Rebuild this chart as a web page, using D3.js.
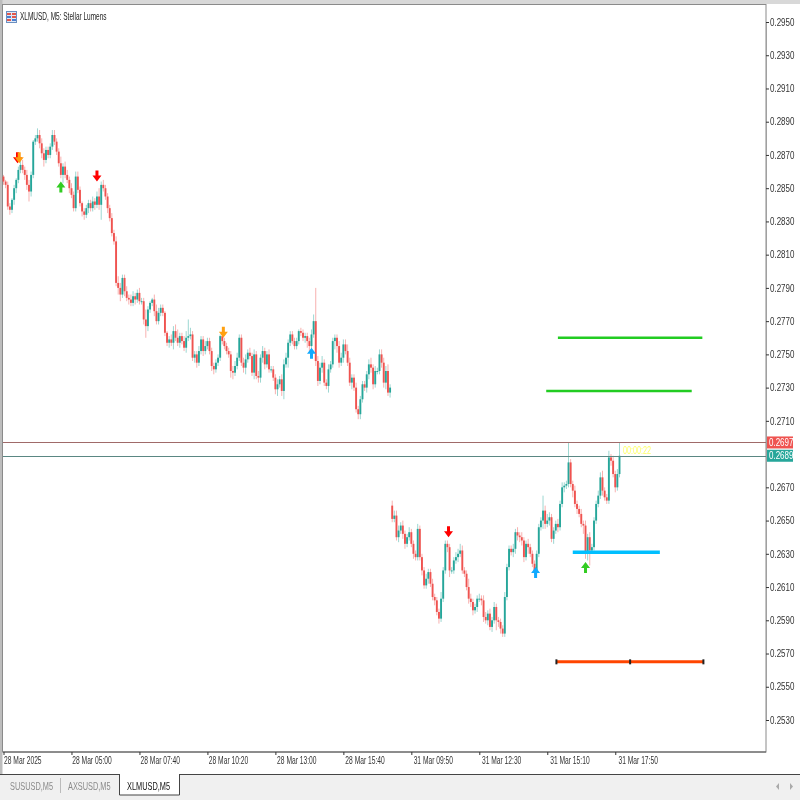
<!DOCTYPE html>
<html><head><meta charset="utf-8">
<script src="https://cdn.jsdelivr.net/npm/d3@7"></script>
<style>html,body{margin:0;padding:0;background:#fff}svg{display:block;filter:blur(.3px)}text{font-family:"Liberation Sans",Arial,sans-serif}</style>
</head><body><svg id="c" width="800" height="800"></svg>
<script>
// prices are in units of 0.0001
const firstOpen = 2857, sessionBreak = 183, sessionOpen = 2659;
const closes = [
2854,2852,2839,2837,2843,2850,2855,2861,2864,2861,
2858,2852,2848,2858,2878,2880,2882,2877,2871,2867,
2873,2870,2875,2882,2878,2872,2865,2858,2863,2858,
2855,2850,2846,2838,2857,2849,2841,2836,2834,2838,
2841,2838,2842,2840,2845,2840,2852,2850,2845,2838,
2832,2823,2818,2793,2790,2786,2796,2788,2784,2783,
2781,2785,2783,2787,2782,2782,2771,2767,2777,2781,
2783,2776,2770,2775,2778,2775,2763,2757,2759,2757,
2764,2760,2757,2761,2758,2754,2760,2761,2762,2748,
2750,2745,2752,2759,2752,2755,2758,2752,2743,2741,
2745,2748,2761,2758,2755,2752,2750,2740,2739,2743,
2748,2760,2745,2742,2747,2751,2749,2739,2750,2737,
2736,2748,2752,2744,2750,2741,2741,2736,2729,2732,
2735,2728,2744,2748,2757,2762,2758,2755,2758,2764,
2763,2760,2761,2758,2755,2762,2770,2746,2734,2742,
2745,2733,2731,2741,2744,2758,2760,2755,2745,2748,
2756,2752,2745,2733,2736,2730,2717,2714,2723,2732,
2730,2738,2744,2742,2732,2740,2740,2750,2745,2733,
2740,2727,2730,
2651,2653,2640,2644,2647,2642,2636,2640,2643,2636,
2630,2628,2645,2628,2620,2611,2615,2619,2612,2604,
2602,2595,2591,2603,2620,2636,2634,2620,2620,2626,
2628,2630,2632,2620,2618,2610,2603,2601,2596,2598,
2603,2603,2602,2592,2590,2594,2586,2590,2598,2590,
2589,2585,2582,2604,2622,2633,2631,2633,2643,2641,
2640,2638,2628,2636,2634,2630,2624,2620,2630,2646,
2650,2656,2648,2650,2652,2639,2644,2648,2646,2660,
2670,2671,2672,2685,2672,2668,2660,2657,2654,2648,
2647,2630,2640,2632,2634,2650,2660,2665,2676,2668,
2664,2662,2688,2686,2678,2670,2678,2689];
const wickUp = [
1,1,2,2,1,2,1,2,3,3, 2,3,3,2,1,2,4,3,3,3, 2,2,2,3,3,2,2,4,2,3,
3,2,3,2,3,3,2,1,2,2, 2,2,3,2,3,5,2,3,2,2, 2,3,2,3,4,3,2,2,3,2,
3,3,2,2,3,2,2,6,2,1, 1,3,4,3,2,2,1,1,2,3, 3,4,5,2,2,3,4,10,4,2,
2,2,3,2,2,3,2,2,2,2, 2,2,1,2,2,2,2,2,3,3, 3,2,2,3,3,2,3,2,3,2,
3,2,3,2,2,3,2,2,2,3, 2,3,3,3,2,2,2,2,2,1, 2,2,2,2,2,3,4,20,3,3,
4,2,2,3,2,2,2,2,3,3, 3,3,4,3,2,2,3,2,2,2, 2,2,3,4,2,3,2,3,3,3,
3,4,2,
3,3,3,3,2,3,2,2,3,2, 2,2,3,2,2,2,3,2,2,3, 2,2,2,4,2,2,2,2,2,2,
3,3,4,3,2,2,5,3,2,2, 2,3,2,3,3,2,3,2,3,2, 2,2,2,3,2,2,2,3,2,3,
2,3,2,2,3,2,2,2,2,2, 2,9,3,4,3,2,2,2,3,2, 3,2,2,12,2,2,3,2,2,3,
2,3,2,3,2,2,2,3,3,4, 2,2,4,2,3,2,3,8];
const wickDown = [
2,2,2,3,2,3,3,2,2,2, 3,3,6,3,2,2,2,3,3,4, 2,2,2,2,2,2,2,2,5,2,
2,3,2,2,2,2,2,3,3,2, 3,2,2,3,2,3,9,2,2,3, 2,2,2,2,4,4,2,3,2,3,
2,2,3,2,2,2,3,7,3,2, 2,3,2,2,2,2,2,2,3,2, 4,2,2,3,2,2,3,2,2,2,
3,3,2,2,3,2,2,2,3,3, 2,2,2,2,2,2,2,4,4,2, 2,2,2,3,4,2,2,2,4,2,
3,3,3,3,2,2,2,2,3,4, 2,3,5,2,6,2,2,2,2,2, 2,2,3,4,3,2,2,3,3,2,
3,2,2,4,2,2,5,4,3,2, 3,2,2,2,4,2,2,3,3,2, 2,3,3,3,3,2,2,2,3,3,
4,2,3,
2,2,2,3,2,3,3,2,2,2, 3,2,2,2,3,2,2,3,2,2, 3,2,3,2,2,2,3,4,2,2,
2,3,2,2,2,2,3,3,3,2, 3,2,3,3,2,3,2,3,2,6, 3,3,2,2,2,2,2,3,3,3,
3,3,3,2,4,2,2,3,2,2, 2,5,3,2,3,2,3,2,3,2, 2,3,2,2,2,4,2,3,2,2,
5,3,4,9,2,2,2,2,2,3, 2,2,2,3,2,3,2,2];
const yTicks = [0.2950,0.2930,0.2910,0.2890,0.2870,0.2850,0.2830,0.2810,0.2790,0.2770,0.2750,0.2730,0.2710,0.2670,0.2650,0.2630,0.2610,0.2590,0.2570,0.2550,0.2530];
const xTickBars = [0,32,64,96,128,160,192,224,256,288];
const xTickLabels = ["28 Mar 2025","28 Mar 05:00","28 Mar 07:40","28 Mar 10:20","28 Mar 13:00","28 Mar 15:40","31 Mar 09:50","31 Mar 12:30","31 Mar 15:10","31 Mar 17:50"];
const askPrice = 0.2697, bidPrice = 0.2689, countdown = "00:00:22";
const levels = [
 {from:261,to:329,price:0.2760,color:"#22cc22",w:2.5},
 {from:255.5,to:324,price:0.2728,color:"#22cc22",w:2.5},
 {from:268,to:309,price:0.2631,color:"#00bfff",w:3.5},
 {from:260.3,to:329.5,price:0.2565,color:"#ff4500",w:3}];
const orangeAnchors = [260.3,295,329.5];
const arrows = [
 {bar:6.6,price:0.2868,dir:"down",color:"#ff0000"},{bar:7.4,price:0.2868,dir:"down",color:"#ff9c10"},
 {bar:27,price:0.2851,dir:"up",color:"#33cc22"},
 {bar:44,price:0.2857,dir:"down",color:"#ff0000"},
 {bar:103.5,price:0.2763,dir:"down",color:"#ffa010"},
 {bar:145,price:0.2751,dir:"up",color:"#10aaff"},
 {bar:209.5,price:0.2643,dir:"down",color:"#ff0000"},
 {bar:250.5,price:0.2619,dir:"up",color:"#10aaff"},
 {bar:274,price:0.2622,dir:"up",color:"#33cc22"}];

const svg = d3.select("#c");
const x = d3.scaleLinear().domain([0,290]).range([3.5,619.5]);
const y = d3.scaleLinear().domain([0.2950,0.2530]).range([22,720]);
const P = 1e-4, UP="#26a69a", DN="#ef5350";
// Draws squeezed text so it reads like the terminal's narrow UI font
function label(str,px,py,size,fill,sx){
  return svg.append("text").attr("transform",`translate(${px},${py}) scale(${sx},1)`).attr("font-size",size).attr("fill",fill).text(str);
}

// window chrome
svg.append("rect").attr("width",800).attr("height",800).attr("fill","#fff");
svg.append("rect").attr("width",800).attr("height",4).attr("fill","#d8d8d8");
svg.append("rect").attr("width",2.5).attr("height",774).attr("fill","#bdbdbd");
svg.append("rect").attr("x",2.5).attr("y",4.5).attr("width",763.5).attr("height",747.5).attr("fill","#fff").attr("stroke","#8a8a8a");
svg.append("line").attr("x1",3).attr("x2",766).attr("y1",752).attr("y2",752).attr("stroke","#555");

// y axis
const yAxis = d3.axisRight(y).tickValues(yTicks).tickSize(3).tickFormat(d3.format(".4f"));
const gy = svg.append("g").attr("transform","translate(766,0)").call(yAxis);
gy.select(".domain").attr("stroke","#a0a0a0");
gy.selectAll(".tick line").attr("stroke","#333");
gy.selectAll("text").attr("x",0).attr("transform","translate(4,0) scale(.8,1)").attr("font-size",10).attr("fill","#333");

// x axis
const xLabel = new Map(xTickBars.map((b,i)=>[b,xTickLabels[i]]));
const xAxis = d3.axisBottom(x).tickValues(xTickBars).tickSize(3).tickFormat(b=>xLabel.get(b));
const gx = svg.append("g").attr("transform","translate(0,752)").call(xAxis);
gx.select(".domain").remove();
gx.selectAll(".tick line").attr("stroke","#333");
gx.selectAll("text").attr("text-anchor","start").attr("x",0).attr("y",5).attr("transform",(d,i)=>`translate(${i*0.3},0) scale(.67,1)`).attr("font-size",10).attr("fill","#333");

// candles
const bars = closes.map((c,i)=>{
  const o = i===0?firstOpen:(i===sessionBreak?sessionOpen:closes[i-1]);
  return {i,o,c,h:Math.max(o,c)+wickUp[i],l:Math.min(o,c)-wickDown[i]};
});
const g = svg.append("g");
g.selectAll("line.w").data(bars).join("line").attr("class","w")
 .attr("x1",d=>x(d.i)).attr("x2",d=>x(d.i)).attr("y1",d=>y(d.h*P)).attr("y2",d=>y(d.l*P))
 .attr("stroke",d=>d.c>=d.o?UP:DN).attr("stroke-width",1).attr("opacity",.45);
g.selectAll("rect").data(bars).join("rect")
 .attr("x",d=>x(d.i)-.95).attr("width",1.9)
 .attr("y",d=>y(Math.max(d.o,d.c)*P)).attr("height",d=>Math.max(1,Math.abs(y(d.o*P)-y(d.c*P))))
 .attr("fill",d=>d.c>=d.o?UP:DN);

// price lines
[[askPrice,"#ef5350"],[bidPrice,"#26a69a"]].forEach(([p,col])=>{
  const ly = Math.round(y(p))+.5;
  svg.append("line").attr("x1",3).attr("x2",766).attr("y1",ly).attr("y2",ly).attr("stroke","#777");
  svg.append("line").attr("x1",3).attr("x2",766).attr("y1",ly).attr("y2",ly).attr("stroke",col).attr("stroke-opacity",.35);
  svg.append("rect").attr("x",767).attr("y",y(p)-6).attr("width",26).attr("height",12).attr("fill",col);
  label(d3.format(".4f")(p),769,y(p)+3.5,10,"#fff",.8);
});
label(countdown,623,454,10,"#ffff66",.72);

// levels
svg.selectAll("line.lv").data(levels).join("line").attr("class","lv")
 .attr("x1",d=>x(d.from)).attr("x2",d=>x(d.to)).attr("y1",d=>y(d.price)).attr("y2",d=>y(d.price))
 .attr("stroke",d=>d.color).attr("stroke-width",d=>d.w);
svg.selectAll("rect.an").data(orangeAnchors).join("rect").attr("class","an")
 .attr("x",d=>x(d)-1).attr("width",2).attr("y",y(0.2565)-2.5).attr("height",5).attr("fill","#222");

// arrows
const arrowPath = "M-1.5,-6H1.5V-1H4.5L0,5L-4.5,-1H-1.5Z";
svg.selectAll("path.ar").data(arrows).join("path").attr("class","ar")
 .attr("d",arrowPath).attr("fill",d=>d.color)
 .attr("transform",d=>`translate(${x(d.bar)},${y(d.price)})${d.dir==="up"?" scale(1,-1)":""}`);

// title + icon
const ic = svg.append("g");
ic.append("rect").attr("x",6.5).attr("y",11.5).attr("width",10).attr("height",11).attr("fill","#dfe8f5").attr("stroke","#6b8fc0");
[[7,13,"#e2574c"],[12,13,"#e2574c"],[7,16,"#4a7fd0"],[12,16,"#e2574c"],[7,19,"#e2574c"],[12,19,"#4a7fd0"]].forEach(([a,b,c])=>
  ic.append("rect").attr("x",a).attr("y",b).attr("width",4).attr("height",2).attr("fill",c));
label("XLMUSD, M5:  Stellar Lumens",20,20,10,"#222",.65);

// tabs
svg.append("rect").attr("y",775).attr("width",800).attr("height",25).attr("fill","#f0f0f0");
svg.append("line").attr("x1",0).attr("x2",800).attr("y1",774.5).attr("y2",774.5).attr("stroke","#444");
svg.append("line").attr("x1",60.5).attr("x2",60.5).attr("y1",778).attr("y2",793).attr("stroke","#bbb");
svg.append("path").attr("d","M119.5,775V795H179.5V775").attr("fill","#fff").attr("stroke","#444");
svg.append("rect").attr("x",120).attr("y",774).attr("width",59).attr("height",2).attr("fill","#fff");
[["SUSUSD,M5",10,"#8a8a8a"],["AXSUSD,M5",68,"#8a8a8a"],["XLMUSD,M5",127,"#111"]].forEach(([t,a,c])=>
  label(t,a,790,11,c,.67));
svg.append("path").attr("d","M779,783L776,786.5L779,790Z M790,783L793,786.5L790,790Z").attr("fill","#aaa");
</script></body></html>
